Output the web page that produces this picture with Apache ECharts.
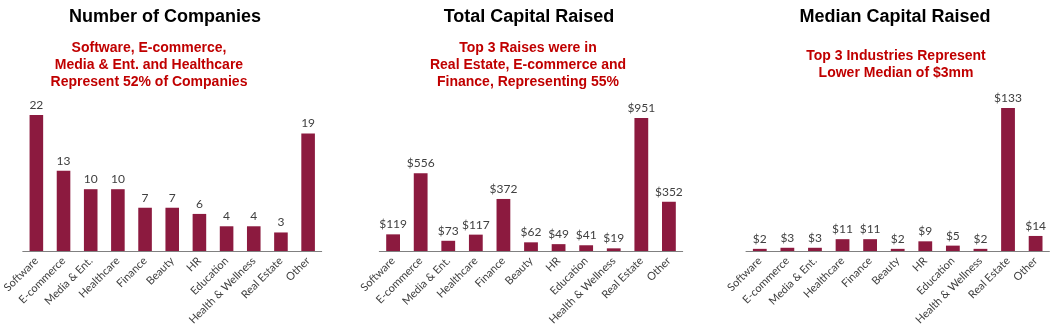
<!DOCTYPE html>
<html>
<head>
<meta charset="utf-8">
<script src="https://cdn.jsdelivr.net/npm/echarts@6/dist/echarts.min.js"></script>
<style>
html,body{margin:0;padding:0;background:#fff;}
#c{width:1059px;height:333px;}
</style>
</head>
<body>
<div id="c"></div>
<script>
const categories = ['Software','E-commerce','Media & Ent.','Healthcare','Finance','Beauty','HR','Education','Health & Wellness','Real Estate','Other'];
const companies = [22,13,10,10,7,7,6,4,4,3,19];
const totalCapital = [119,556,73,117,372,62,49,41,19,951,352];
const medianCapital = [2,3,3,11,11,2,9,5,2,133,14];

const titles = ['Number of Companies','Total Capital Raised','Median Capital Raised'];
const subtitles = [
  'Software, E-commerce,\nMedia & Ent. and Healthcare\nRepresent 52% of Companies',
  'Top 3 Raises were in\nReal Estate, E-commerce and\nFinance, Representing 55%',
  'Top 3 Industries Represent\nLower Median of $3mm'
];
const yMax = [25,1000,150];

const BAR = '#8C1A3F';
const TXT = '#404040';
const labelFont = 'Lato, "Open Sans", sans-serif';

const grids = [
  {left:18.3, width:303.4, top:96.5, bottom:82},
  {left:379.3, width:303.4, top:111.1, bottom:82},
  {left:746, width:303.4, top:89.75, bottom:82}
];
const titleX = [160,524,890];
const subX = [144,523,891];
const subY = [35,35,43];
const seriesData = [companies,totalCapital,medianCapital];

const option = {
  animation:false,
  backgroundColor:'#fff',
  title: [],
  grid: grids.map(g => Object.assign({containLabel:false}, g)),
  xAxis: [],
  yAxis: [],
  series: []
};
for (let i=0;i<3;i++){
  option.title.push({
    text: titles[i], left: titleX[i], top: 3, textAlign:'center',
    textStyle:{fontFamily:'"Liberation Sans", Arial, sans-serif', fontWeight:'bold', fontSize:18, color:'#000'}
  });
  option.title.push({
    text: subtitles[i], left: subX[i], top: subY[i], textAlign:'center',
    textStyle:{fontFamily:'"Liberation Sans", Arial, sans-serif', fontWeight:'bold', fontSize:14, lineHeight:17, color:'#C00000'}
  });
  option.xAxis.push({
    type:'category', gridIndex:i, data:categories,
    axisLine:{lineStyle:{color:'#808080', width:1}},
    axisTick:{show:false},
    axisLabel:{rotate:45, interval:0, margin:8, color:TXT, fontFamily:labelFont, fontSize:11}
  });
  option.yAxis.push({
    type:'value', gridIndex:i, min:0, max:yMax[i], show:false, splitLine:{show:false}
  });
  option.series.push({
    type:'bar', xAxisIndex:i, yAxisIndex:i, data:seriesData[i],
    barWidth:'50%',
    itemStyle:{color:BAR},
    label:{show:true, position:'top', distance:4, color:TXT, fontFamily:labelFont, fontSize:12,
      formatter: i===0 ? '{c}' : (p => '$' + p.value)}
  });
}
const chart = echarts.init(document.getElementById('c'), null, {renderer:'canvas'});
chart.setOption(option);
</script>
</body>
</html>
